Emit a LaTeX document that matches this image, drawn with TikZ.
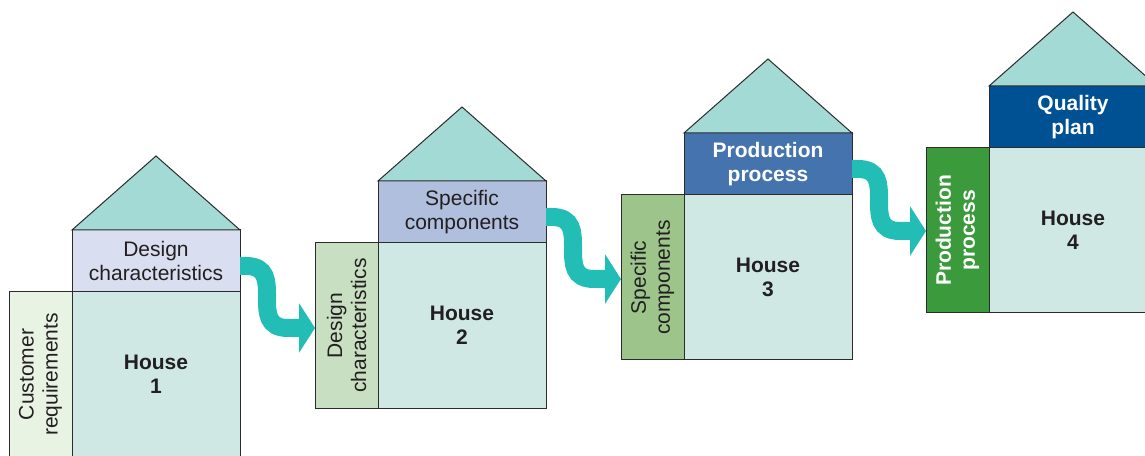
\documentclass[tikz,border=0pt]{standalone}
\usepackage{fontspec}
\setmainfont{Liberation Sans}
\usepackage{xcolor}
\usetikzlibrary{positioning,arrows.meta}

\definecolor{roofteal}{HTML}{A3DAD6}
\definecolor{bodyteal}{HTML}{CFE8E4}
\definecolor{lilac}{HTML}{D9DFF0}
\definecolor{periwinkle}{HTML}{B0BFDD}
\definecolor{steelblue}{HTML}{4573AD}
\definecolor{navyblue}{HTML}{005094}
\definecolor{palegreen}{HTML}{E9F3E4}
\definecolor{sagegreen}{HTML}{C8DFC2}
\definecolor{leafgreen}{HTML}{9DC48B}
\definecolor{deepgreen}{HTML}{3B9A3B}
\definecolor{flowteal}{HTML}{22BDB5}
\definecolor{inkgray}{HTML}{231F20}
\definecolor{edgegray}{HTML}{2B2B2B}

\begin{document}
\begin{tikzpicture}[x=1pt, y=1pt,
    box/.style={draw=edgegray, line width=1pt, outer sep=0pt, inner sep=0pt,
        align=center, text=inkgray, font=\fontsize{21}{24}\selectfont},
    hdr/.style={box, minimum width=168pt, minimum height=62pt},
    body/.style={box, fill=bodyteal, minimum width=168pt, minimum height=165pt,
        font=\fontsize{21}{24}\selectfont\bfseries},
    lft/.style={box, minimum width=63pt, minimum height=165pt},
    side/.style={rotate=90, align=center, inner sep=0pt, text=inkgray,
        font=\fontsize{21}{24}\selectfont},
    strong/.style={text=white, font=\fontsize{21}{24}\selectfont\bfseries},
    roof/.style={draw=edgegray, line width=1pt, fill=roofteal},
    flow/.style={draw=flowteal, line width=18pt, -{Triangle[length=16pt, width=49pt]}}
]
    \useasboundingbox (0,0) rectangle (1145,455);
    \clip (0,0) rectangle (1145,455);

    % House 1
    \node[body, anchor=north west] (body1) at (72,163) {House\\1};
    \node[lft, fill=palegreen, left=0pt of body1] (lft1) {};
    \node[side] (side1) at (lft1) {Customer\\requirements};
    \node[hdr, fill=lilac, above=0pt of body1] (hdr1) {Design\\characteristics};
    \draw[roof] (hdr1.north west) -- ([yshift=74]hdr1.north) -- (hdr1.north east) -- cycle;

    % House 2
    \node[body, anchor=north west] (body2) at (378,212) {House\\2};
    \node[lft, fill=sagegreen, left=0pt of body2] (lft2) {};
    \node[side] (side2) at (lft2) {Design\\characteristics};
    \node[hdr, fill=periwinkle, above=0pt of body2] (hdr2) {Specific\\components};
    \draw[roof] (hdr2.north west) -- ([yshift=74]hdr2.north) -- (hdr2.north east) -- cycle;

    % House 3
    \node[body, anchor=north west] (body3) at (684,260) {House\\3};
    \node[lft, fill=leafgreen, left=0pt of body3] (lft3) {};
    \node[side] (side3) at (lft3) {Specific\\components};
    \node[hdr, fill=steelblue, strong, above=0pt of body3] (hdr3) {Production\\process};
    \draw[roof] (hdr3.north west) -- ([yshift=74]hdr3.north) -- (hdr3.north east) -- cycle;

    % House 4
    \node[body, anchor=north west] (body4) at (989,307) {House\\4};
    \node[lft, fill=deepgreen, left=0pt of body4] (lft4) {};
    \node[side, strong] (side4) at (lft4) {Production\\process};
    \node[hdr, fill=navyblue, strong, above=0pt of body4] (hdr4) {Quality\\plan};
    \draw[roof] (hdr4.north west) -- ([yshift=74]hdr4.north) -- (hdr4.north east) -- cycle;

    % Flow arrows
    \draw[flow] ([yshift=-5]hdr1.east) -- ++(6,0)
        .. controls +(21,0) and +(0,16) .. ++(21,-31)
        .. controls +(0,-16) and +(-21,0) .. ++(21,-31) coordinate (bend1)
        -- (bend1 -| lft2.west);
    \draw[flow] ([yshift=-5]hdr2.east) -- ++(6,0)
        .. controls +(21,0) and +(0,16) .. ++(21,-31)
        .. controls +(0,-16) and +(-21,0) .. ++(21,-31) coordinate (bend2)
        -- (bend2 -| lft3.west);
    \draw[flow] ([yshift=-5]hdr3.east) -- ++(6,0)
        .. controls +(21,0) and +(0,16) .. ++(21,-31)
        .. controls +(0,-16) and +(-21,0) .. ++(21,-31) coordinate (bend3)
        -- (bend3 -| lft4.west);
\end{tikzpicture}
\end{document}
